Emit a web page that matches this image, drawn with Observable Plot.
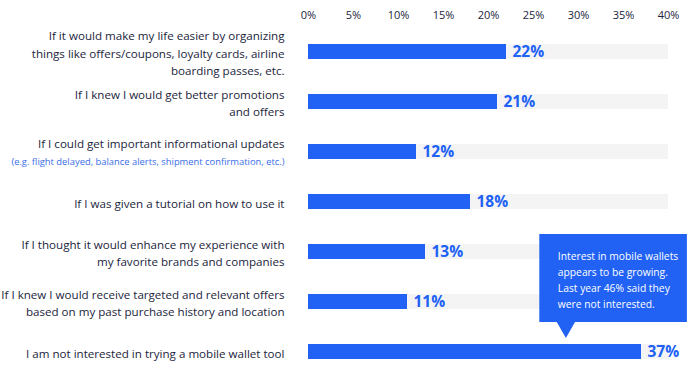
<!DOCTYPE html>
<html>
<head>
<meta charset="utf-8">
<script src="https://cdn.jsdelivr.net/npm/d3@7"></script>
<script src="https://cdn.jsdelivr.net/npm/@observablehq/plot@0.6"></script>
<style>
  html, body { margin: 0; padding: 0; background: #fff; }
  #chart { width: 691px; height: 368px; }
</style>
</head>
<body>
<div id="chart"></div>
<script>
const categories = [
  "If it would make my life easier by organizing\nthings like offers/coupons, loyalty cards, airline\nboarding passes, etc.",
  "If I knew I would get better promotions\nand offers",
  "If I could get important informational updates",
  "If I was given a tutorial on how to use it",
  "If I thought it would enhance my experience with\nmy favorite brands and companies",
  "If I knew I would receive targeted and relevant offers\nbased on my past purchase history and location",
  "I am not interested in trying a mobile wallet tool"
];
const values = [22, 21, 12, 18, 13, 11, 37];
const subNotes = [null, null, "(e.g. flight delayed, balance alerts, shipment confirmation, etc.)", null, null, null, null];
const xTicks = [0, 5, 10, 15, 20, 25, 30, 35, 40];
const maxValue = 40;
const calloutText = "Interest in mobile wallets\nappears to be growing.\nLast year 46% said they\nwere not interested.";
const calloutX1 = 25.7, calloutX2 = 42.1, calloutTipX = 28.6;

const rows = categories.map((c, i) => ({cat: c, value: values[i], note: subNotes[i]}));
const lastCat = categories[categories.length - 1];

const blue = "#2162f4";
const navy = "#1b1e3c";
const font = "'Open Sans', Lato, sans-serif";

const chart = Plot.plot({
  width: 691,
  height: 368,
  marginLeft: 308,
  marginRight: 23,
  marginTop: 24,
  marginBottom: 0,
  style: {fontFamily: font, fontSize: "11px", color: navy, background: "#fff", overflow: "visible"},
  x: {domain: [0, maxValue], axis: "top", ticks: xTicks, tickFormat: d => d + "%", tickSize: 0, tickPadding: 6, label: null},
  y: {domain: categories, range: [22, 380], paddingInner: 0.706, paddingOuter: 0.363, axis: null},
  marks: [
    Plot.barX(rows, {y: "cat", x1: 0, x2: maxValue, fill: "#f4f4f5"}),
    Plot.barX(rows, {y: "cat", x: "value", fill: blue}),
    Plot.text(rows, {y: "cat", x: "value", text: d => d.value + "%", textAnchor: "start", dx: 6, fill: blue, fontWeight: "bold", fontSize: 15.5}),
    Plot.text(rows.filter(d => !d.note), {y: "cat", x: 0, text: "cat", textAnchor: "end", dx: -24, lineHeight: 1.5, fill: navy, fontSize: 11.6}),
    Plot.text(rows.filter(d => d.note), {y: "cat", x: 0, text: "cat", textAnchor: "end", dx: -24, dy: -8, fill: navy, fontSize: 11.6}),
    Plot.text(rows.filter(d => d.note), {y: "cat", x: 0, text: "note", textAnchor: "end", dx: -24, dy: 10, fill: "#3a6ee6", fontSize: 9.4}),
    // callout
    Plot.rect([{cat: lastCat}], {y: "cat", x1: calloutX1, x2: calloutX2, fill: blue, insetTop: -110, insetBottom: 37}),
    Plot.dot([{cat: lastCat}], {y: "cat", x: calloutTipX, symbol: "triangle", rotate: 180, r: 7, fill: blue, stroke: "none", dy: -25}),
    Plot.text([{cat: lastCat}], {y: "cat", x: calloutX1, text: () => calloutText, textAnchor: "start", lineAnchor: "top", dx: 18, dy: -103, lineHeight: 1.55, fill: "#fff", fontSize: 10.3})
  ]
});
document.getElementById("chart").appendChild(chart);
</script>
</body>
</html>
